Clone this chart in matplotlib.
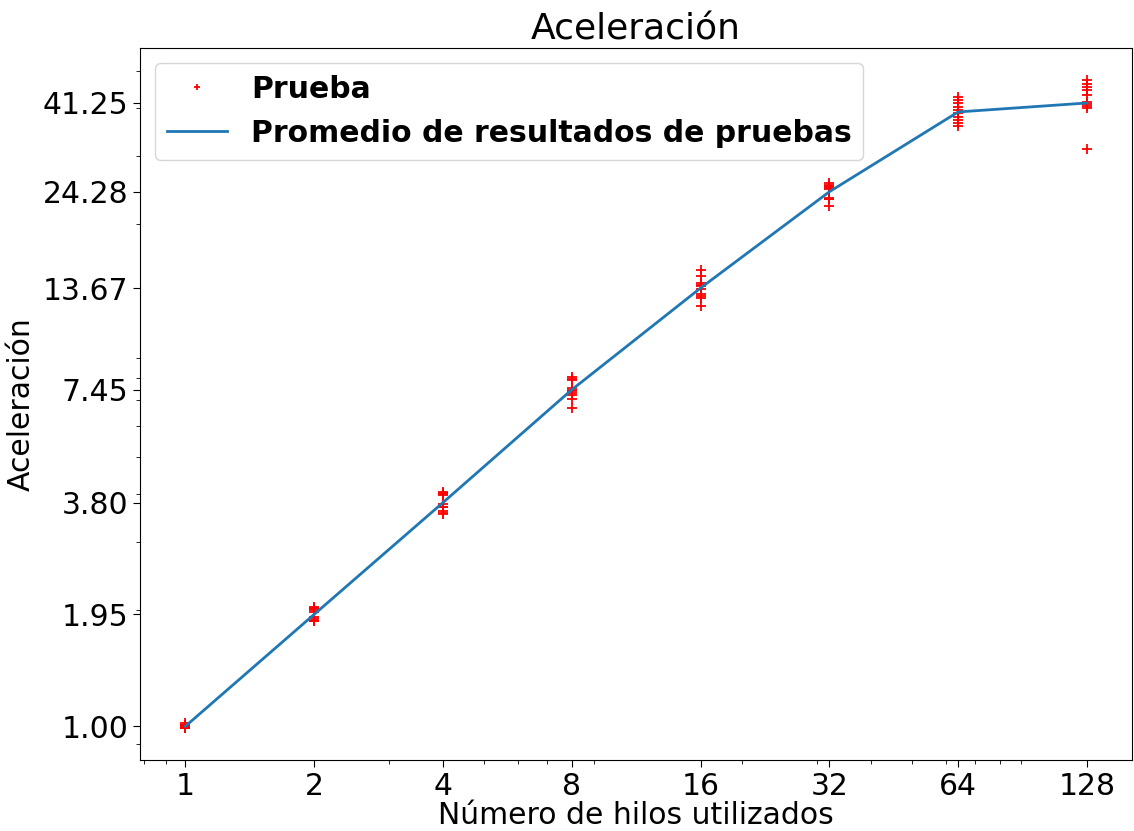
import numpy as np
import matplotlib
matplotlib.use("Agg")
import matplotlib.pyplot as plt
from matplotlib.ticker import NullFormatter, FixedLocator

# Threads used in each run
hilos = [1, 2, 4, 8, 16, 32, 64, 128]

# Speed-up measured in each individual run, grouped by thread count
pruebas_1 = [1.02, 1.01, 1.01, 1.00, 1.00, 1.00, 0.99, 0.99, 0.99, 0.99]
pruebas_2 = [2.04, 2.02, 2.01, 2.00, 1.98, 1.92, 1.90, 1.88, 1.87, 1.88]
pruebas_4 = [4.06, 4.03, 4.01, 3.98, 3.76, 3.70, 3.62, 3.58, 3.56, 3.70]
pruebas_8 = [8.02, 7.96, 7.90, 7.55, 7.45, 7.38, 7.30, 7.22, 7.05, 6.67]
pruebas_16 = [15.25, 14.70, 14.05, 13.90, 13.80, 13.60, 13.20, 13.02, 12.90, 12.28]
pruebas_32 = [25.60, 25.30, 25.10, 25.00, 24.90, 24.70, 23.40, 23.30, 23.20, 22.30]
pruebas_64 = [42.80, 42.00, 41.20, 40.30, 39.60, 38.80, 38.00, 37.30, 36.60, 35.90]
pruebas_128 = [47.20, 46.20, 45.40, 44.60, 43.20, 41.50, 40.90, 40.60, 40.10, 31.30]

pruebas = [pruebas_1, pruebas_2, pruebas_4, pruebas_8,
           pruebas_16, pruebas_32, pruebas_64, pruebas_128]

# Average speed-up per thread count
promedio = [1.00, 1.95, 3.80, 7.45, 13.67, 24.28, 39.10, 41.25]

# Values marked on the speed-up axis
marcas_y = [1.00, 1.95, 3.80, 7.45, 13.67, 24.28, 41.25]

fig = plt.figure(figsize=(11.34, 8.31), dpi=100)
ax = fig.add_axes([0.1237, 0.085, 0.8745, 0.8572])

xs = np.concatenate([[h] * len(p) for h, p in zip(hilos, pruebas)])
ys = np.concatenate(pruebas)
ax.plot(xs, ys, linestyle="none", marker="+", color="red",
        markersize=7.5, markeredgewidth=1.3, label="Prueba")
ax.plot(hilos, promedio, color="#1f77b4", linewidth=2,
        label="Promedio de resultados de pruebas")

ax.set_xscale("log")
ax.set_yscale("log")

ax.xaxis.set_major_locator(FixedLocator(hilos))
ax.set_xticklabels([str(h) for h in hilos])
ax.xaxis.set_minor_formatter(NullFormatter())

ax.yaxis.set_major_locator(FixedLocator(marcas_y))
ax.set_yticklabels([f"{v:.2f}" for v in marcas_y])
ax.yaxis.set_minor_formatter(NullFormatter())

ax.tick_params(axis="both", which="major", labelsize=21.5, length=5)
ax.tick_params(axis="both", which="minor", length=3)

ax.set_xlabel("Número de hilos utilizados", fontsize=21.5, labelpad=0)
ax.set_ylabel("Aceleración", fontsize=21.5, labelpad=5)
ax.set_title("Aceleración", fontsize=26)

ax.legend(loc="upper left", prop={"weight": "bold", "size": 21.5},
          markerscale=0.5, handlelength=2.0)

fig.savefig("out.png", dpi=100)
